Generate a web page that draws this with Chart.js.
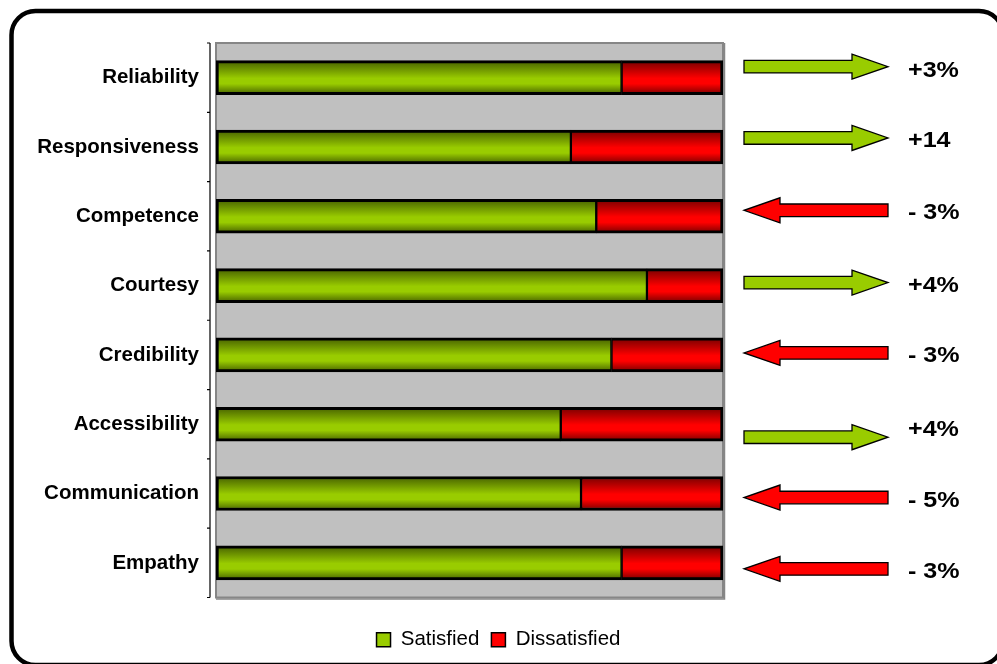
<!DOCTYPE html>
<html>
<head>
<meta charset="utf-8">
<script src="https://cdn.jsdelivr.net/npm/chart.js@4/dist/chart.umd.min.js"></script>
<style>
  html, body { margin: 0; padding: 0; background: #ffffff; }
  #wrap { width: 997px; height: 664px; }
</style>
</head>
<body>
<div id="wrap"><canvas id="c" width="997" height="664"></canvas></div>
<script>
// Survey dimensions, top to bottom
const categories = ['Reliability', 'Responsiveness', 'Competence', 'Courtesy',
                    'Credibility', 'Accessibility', 'Communication', 'Empathy'];
// Share of respondents (%)
const satisfied    = [80, 70, 75, 85, 78, 68, 72, 80];
const dissatisfied = [20, 30, 25, 15, 22, 32, 28, 20];
// Change versus the previous survey
const changeLabels = ['+3%', '+14', '- 3%', '+4%', '- 3%', '+4%', '- 5%', '- 3%'];
const changeSign   = [1, 1, -1, 1, -1, 1, -1, -1];

// Vertical nudges of the trend arrows / labels relative to each bar centre (px)
const arrowShift = [-11, -9, -6, -3, -2, 13, 4, 6];
const labelShift = [-8, -7, -4, -1, 0, 5, 6, 8];

const GREEN = '#99cc00', GREEN_DARK = '#466000';
const RED = '#ff0000', RED_DARK = '#760000';
const BAR_T = 34;

// Vertical shading for each bar, built from the category scale position
function shaded(light, dark) {
  return (ctx) => {
    const chart = ctx.chart;
    const ys = chart.scales && chart.scales.y;
    if (!chart.chartArea || !ys || ctx.dataIndex === undefined) return light;
    const yc = ys.getPixelForValue(ctx.dataIndex);
    const g = chart.ctx.createLinearGradient(0, yc - BAR_T / 2, 0, yc + BAR_T / 2);
    g.addColorStop(0, dark);
    g.addColorStop(0.52, light);
    g.addColorStop(0.68, light);
    g.addColorStop(1, dark);
    return g;
  };
}

// White page with a rounded black frame
const framePlugin = {
  id: 'frame',
  beforeDraw(chart) {
    const c = chart.ctx;
    c.save();
    c.fillStyle = '#ffffff';
    c.fillRect(0, 0, chart.width, chart.height);
    c.lineWidth = 4.5;
    c.strokeStyle = '#000000';
    c.beginPath();
    c.roundRect(11.5, 11, 991.5, 654, 24);
    c.stroke();
    c.restore();
  }
};

// Grey plot background and the detached category axis line with its ticks
const plotBgPlugin = {
  id: 'plotBg',
  beforeDatasetsDraw(chart) {
    const c = chart.ctx, a = chart.chartArea, ys = chart.scales.y;
    c.save();
    c.fillStyle = '#c0c0c0';
    c.fillRect(a.left, a.top, a.right - a.left, a.bottom - a.top);
    c.strokeStyle = '#868686';
    c.lineWidth = 2;
    c.strokeRect(a.left, a.top, a.right - a.left, a.bottom - a.top);
    c.lineWidth = 1.5;
    c.beginPath();
    c.moveTo(a.right + 1.5, a.top);
    c.lineTo(a.right + 1.5, a.bottom + 1.5);
    c.lineTo(a.left, a.bottom + 1.5);
    c.stroke();

    const ax = a.left - 6;
    const band = ys.getPixelForValue(1) - ys.getPixelForValue(0);
    c.strokeStyle = '#000000';
    c.lineWidth = 1.2;
    c.beginPath();
    c.moveTo(ax, a.top);
    c.lineTo(ax, a.bottom);
    for (let i = 0; i <= categories.length; i++) {
      const ty = ys.getPixelForValue(i) - band / 2;
      c.moveTo(ax - 3, ty);
      c.lineTo(ax, ty);
    }
    c.stroke();
    c.restore();
  }
};

// Trend arrows and change labels to the right of the plot
const trendPlugin = {
  id: 'trend',
  afterDraw(chart) {
    const c = chart.ctx, a = chart.chartArea, ys = chart.scales.y;
    const x0 = a.right + 21, x1 = a.right + 165;
    const shaft = 6.3, head = 12.5, headLen = 36;
    c.save();
    categories.forEach((cat, i) => {
      const yc = ys.getPixelForValue(i) + arrowShift[i];
      c.beginPath();
      if (changeSign[i] > 0) {
        c.moveTo(x0, yc - shaft);
        c.lineTo(x1 - headLen, yc - shaft);
        c.lineTo(x1 - headLen, yc - head);
        c.lineTo(x1, yc);
        c.lineTo(x1 - headLen, yc + head);
        c.lineTo(x1 - headLen, yc + shaft);
        c.lineTo(x0, yc + shaft);
      } else {
        c.moveTo(x1, yc - shaft);
        c.lineTo(x0 + headLen, yc - shaft);
        c.lineTo(x0 + headLen, yc - head);
        c.lineTo(x0, yc);
        c.lineTo(x0 + headLen, yc + head);
        c.lineTo(x0 + headLen, yc + shaft);
        c.lineTo(x1, yc + shaft);
      }
      c.closePath();
      c.fillStyle = changeSign[i] > 0 ? GREEN : RED;
      c.fill();
      c.lineWidth = 1.3;
      c.strokeStyle = '#000000';
      c.stroke();

      const ly = ys.getPixelForValue(i) + labelShift[i];
      c.save();
      c.translate(a.right + 185, ly);
      c.scale(1.14, 1);
      c.font = 'bold 22px "Liberation Sans", Arial, sans-serif';
      c.fillStyle = '#000000';
      c.textAlign = 'left';
      c.textBaseline = 'middle';
      c.fillText(changeLabels[i], 0, 1);
      c.restore();
    });
    c.restore();
  }
};

new Chart(document.getElementById('c'), {
  type: 'bar',
  data: {
    labels: categories,
    datasets: [
      {
        label: 'Satisfied',
        data: satisfied,
        xAxisID: 'x', yAxisID: 'y',
        backgroundColor: shaded(GREEN, GREEN_DARK),
        borderColor: '#000000',
        borderWidth: { top: 3, bottom: 3, left: 3, right: 1.5 },
        borderSkipped: false,
        barThickness: BAR_T
      },
      {
        label: 'Dissatisfied',
        data: dissatisfied,
        xAxisID: 'x', yAxisID: 'y',
        backgroundColor: shaded(RED, RED_DARK),
        borderColor: '#000000',
        borderWidth: { top: 3, bottom: 3, left: 1.5, right: 3 },
        borderSkipped: false,
        barThickness: BAR_T
      }
    ]
  },
  options: {
    indexAxis: 'y',
    responsive: false,
    animation: false,
    devicePixelRatio: 1,
    layout: { padding: { left: 12, right: 12, top: 43, bottom: 4 } },
    scales: {
      y: {
        type: 'category',
        position: 'left',
        stacked: true,
        offset: true,
        grid: { display: false },
        border: { display: false },
        ticks: {
          color: '#000000',
          padding: 9,
          font: { family: '"Liberation Sans", Arial, sans-serif', size: 20.5, weight: 'bold' }
        },
        afterFit(s) { s.width = 204; }
      },
      x: {
        type: 'linear',
        position: 'bottom',
        stacked: true,
        min: 0,
        max: 100,
        grid: { display: false },
        border: { display: false },
        ticks: { display: false },
        afterFit(s) { s.height = 20; }
      },
      side: {
        type: 'linear',
        axis: 'y',
        position: 'right',
        grid: { display: false },
        border: { display: false },
        ticks: { display: false },
        afterFit(s) { s.width = 262; }
      }
    },
    plugins: {
      tooltip: { enabled: false },
      legend: {
        position: 'bottom',
        align: 'center',
        labels: {
          boxWidth: 14,
          boxHeight: 14,
          padding: 12,
          color: '#000000',
          font: { family: '"Liberation Sans", Arial, sans-serif', size: 20.5 },
          generateLabels() {
            return [
              { text: 'Satisfied', fillStyle: GREEN, strokeStyle: '#000000', lineWidth: 1.5, hidden: false, datasetIndex: 0 },
              { text: 'Dissatisfied', fillStyle: RED, strokeStyle: '#000000', lineWidth: 1.5, hidden: false, datasetIndex: 1 }
            ];
          }
        }
      }
    }
  },
  plugins: [framePlugin, plotBgPlugin, trendPlugin]
});
</script>
</body>
</html>
